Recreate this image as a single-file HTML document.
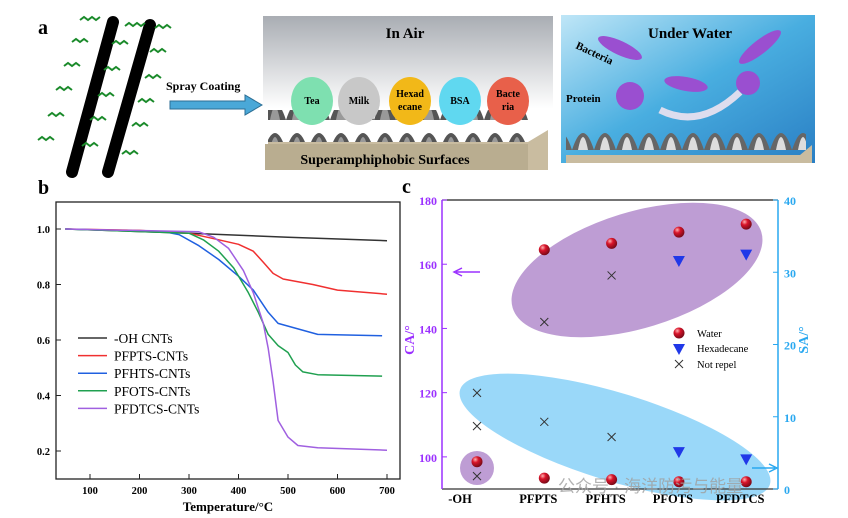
<!DOCTYPE html>
<html><head><meta charset="utf-8"><style>
body{margin:0;background:#fff;overflow:hidden}
svg{display:block;font-family:"Liberation Serif",serif}
</style></head><body>
<svg width="848" height="518" viewBox="0 0 848 518">
<defs>
<linearGradient id="air" x1="0" y1="0" x2="0" y2="1"><stop offset="0" stop-color="#a9adb3"/><stop offset="0.6" stop-color="#fff"/></linearGradient>
<linearGradient id="water" x1="0" y1="0" x2="1" y2="1"><stop offset="0" stop-color="#bfe6f7"/><stop offset="0.5" stop-color="#49aee0"/><stop offset="1" stop-color="#2a7fc4"/></linearGradient>
<radialGradient id="wball" cx="0.35" cy="0.3" r="0.7"><stop offset="0" stop-color="#ffb0b0"/><stop offset="0.4" stop-color="#d9142a"/><stop offset="1" stop-color="#7a0a18"/></radialGradient>
<pattern id="spk" width="22" height="30" patternUnits="userSpaceOnUse"><path d="M0 30 Q11 -4 22 30Z" fill="#555"/><path d="M6 30 Q11 4 16 30Z" fill="#999"/></pattern>
<pattern id="spk2" width="22" height="30" patternUnits="userSpaceOnUse"><path d="M0 30 Q11 -4 22 30Z" fill="#666"/><path d="M6 30 Q11 4 16 30Z" fill="#ddd"/></pattern>
<clipPath id="clipC"><rect x="442" y="200" width="336" height="318"/></clipPath>
</defs>

<!-- Panel a -->
<g>
<text x="38" y="34" font-size="20" font-weight="bold">a</text>
<line x1="72" y1="172" x2="113" y2="22" stroke="#000" stroke-width="12" stroke-linecap="round"/>
<line x1="108" y1="172" x2="150" y2="25" stroke="#000" stroke-width="12" stroke-linecap="round"/>
<g stroke="#1a8a2a" stroke-width="2" fill="none">
<path d="M80 20 l4 -3 l4 3 l4 -3 l4 3 l4 -3"/><path d="M125 26 l4 -3 l4 3 l4 -3 l4 3 l4 -3"/><path d="M155 28 l4 -3 l4 3 l4 -3 l4 3"/>
<path d="M72 42 l4 -3 l4 3 l4 -3 l4 3"/><path d="M112 44 l4 -3 l4 3 l4 -3 l4 3"/><path d="M150 52 l4 -3 l4 3 l4 -3 l4 3"/>
<path d="M64 66 l4 -3 l4 3 l4 -3 l4 3"/><path d="M104 70 l4 -3 l4 3 l4 -3 l4 3"/><path d="M145 78 l4 -3 l4 3 l4 -3 l4 3"/>
<path d="M56 90 l4 -3 l4 3 l4 -3 l4 3"/><path d="M98 96 l4 -3 l4 3 l4 -3 l4 3"/><path d="M138 102 l4 -3 l4 3 l4 -3 l4 3"/>
<path d="M48 116 l4 -3 l4 3 l4 -3 l4 3"/><path d="M90 120 l4 -3 l4 3 l4 -3 l4 3"/><path d="M132 126 l4 -3 l4 3 l4 -3 l4 3"/>
<path d="M38 140 l4 -3 l4 3 l4 -3 l4 3"/><path d="M82 146 l4 -3 l4 3 l4 -3 l4 3"/><path d="M122 154 l4 -3 l4 3 l4 -3 l4 3"/>
</g>
<text x="166" y="90" font-size="12" font-weight="bold">Spray Coating</text>
<path d="M170 101 H245 V95 L262 105 L245 115 V109 H170Z" fill="#4aa8d8" stroke="#2c6e94"/>
<rect x="263" y="16" width="290" height="154" fill="url(#air)"/>
<text x="405" y="38" font-size="15" font-weight="bold" text-anchor="middle">In Air</text>
<rect x="268" y="110" width="260" height="32" fill="url(#spk)"/>
<path d="M268 142 H528 L548 130 V170 H268Z" fill="#c9bca0"/>
<rect x="265" y="144" width="263" height="26" fill="#b9ad90"/>
<text x="385" y="164" font-size="14" font-weight="bold" text-anchor="middle">Superamphiphobic Surfaces</text>
<g font-size="10" font-weight="bold" text-anchor="middle">
<ellipse cx="312" cy="101" rx="21" ry="24" fill="#7ee0b0"/><text x="312" y="104">Tea</text>
<ellipse cx="359" cy="101" rx="21" ry="24" fill="#c8c8c8"/><text x="359" y="104">Milk</text>
<ellipse cx="410" cy="101" rx="21" ry="24" fill="#f2b818"/><text x="410" y="97">Hexad</text><text x="410" y="110">ecane</text>
<ellipse cx="460" cy="101" rx="21" ry="24" fill="#60d8f0"/><text x="460" y="104">BSA</text>
<ellipse cx="508" cy="101" rx="21" ry="24" fill="#e8604a"/><text x="508" y="97">Bacte</text><text x="508" y="110">ria</text>
</g>
<rect x="561" y="15" width="254" height="148" fill="url(#water)"/>
<text x="690" y="38" font-size="15" font-weight="bold" text-anchor="middle">Under Water</text>
<text x="575" y="48" font-size="11" font-weight="bold" transform="rotate(25 575 48)">Bacteria</text>
<text x="566" y="102" font-size="11" font-weight="bold">Protein</text>
<g fill="#9a4fd0">
<ellipse cx="620" cy="48" rx="24" ry="7" transform="rotate(25 620 48)"/>
<ellipse cx="760" cy="47" rx="26" ry="7" transform="rotate(-38 760 47)"/>
<ellipse cx="686" cy="84" rx="22" ry="7" transform="rotate(10 686 84)"/>
<circle cx="630" cy="96" r="14"/><circle cx="748" cy="83" r="12"/></g>
<path d="M660 110 Q700 130 740 92" stroke="#dde" stroke-width="7" fill="none"/>
<rect x="566" y="125" width="240" height="30" fill="url(#spk2)"/>
<path d="M566 155 H800 L812 145 V163 H566Z" fill="#c9bca0"/>
</g>

<!-- Panel b -->
<text x="38" y="194" font-size="20" font-weight="bold">b</text>
<g id="chartB"></g>

<!-- Panel c -->
<text x="402" y="193" font-size="20" font-weight="bold">c</text>
<g id="chartC"></g>
<text x="558" y="492" font-size="17" fill="#a0a0a0" opacity="0.8" font-family="'Liberation Sans','Noto Sans CJK SC',sans-serif">公众号 · 海洋防污与能量</text>
</svg>
<script>
// ---------- Chart b data ----------
const tgaSeriesNames = ["-OH CNTs","PFPTS-CNTs","PFHTS-CNTs","PFOTS-CNTs","PFDTCS-CNTs"];
const tgaColors = ["#333333","#f03030","#2060e0","#20a050","#a060e0"];
const tgaTemps = [
 [50,300,500,700],
 [50,200,300,350,400,430,450,470,490,550,600,700],
 [50,250,280,320,360,400,430,460,480,520,560,690],
 [50,300,330,360,390,420,440,460,480,500,515,530,560,690],
 [50,320,350,380,410,430,450,460,470,480,500,520,560,700]];
const tgaValues = [
 [1.0,0.985,0.97,0.958],
 [1.0,0.995,0.985,0.965,0.945,0.92,0.88,0.84,0.82,0.80,0.78,0.765],
 [1.0,0.99,0.98,0.94,0.89,0.83,0.78,0.70,0.66,0.64,0.62,0.615],
 [1.0,0.985,0.96,0.92,0.86,0.77,0.70,0.62,0.58,0.555,0.51,0.485,0.475,0.47],
 [1.0,0.99,0.97,0.93,0.85,0.77,0.66,0.57,0.45,0.31,0.25,0.22,0.212,0.203]];
const tgaXTicks = [100,200,300,400,500,600,700];
const tgaYTicks = [0.2,0.4,0.6,0.8,1.0];

// ---------- Chart c data ----------
const cats = ["-OH","PFPTS","PFHTS","PFOTS","PFDTCS"];
const waterCA = [98.5,164.5,166.5,170,172.5];
const hexCA = [null,null,null,161,163];
const notRepelCA = [94,142,156.5,null,null];
const waterSA = [null,1.5,1.3,1.0,1.0];
const hexSA = [null,null,null,5.1,4.1];
const notRepelSA1 = [13.3,9.3,7.2,null,null];
const notRepelSA2 = [8.7,null,null,null,null];
const caTicks = [100,120,140,160,180];
const saTicks = [0,10,20,30,40];

const NS="http://www.w3.org/2000/svg";
function mk(parent,tag,attrs,text){const e=document.createElementNS(NS,tag);for(const k in attrs)e.setAttribute(k,attrs[k]);if(text!==undefined)e.textContent=text;parent.appendChild(e);return e;}

// Chart b
(function(){
 const g=document.getElementById('chartB');
 const X=t=>90+(t-100)*0.495, Y=v=>229+(1-v)*277.5;
 tgaValues.forEach((vals,i)=>{
  const d=vals.map((v,j)=>(j?'L':'M')+X(tgaTemps[i][j]).toFixed(1)+' '+Y(v).toFixed(1)).join(' ');
  const p=mk(g,'path',{d:d,fill:'none',stroke:tgaColors[i],'stroke-width':1.5,'stroke-linejoin':'round'});
  
  
 });
 const box=mk(g,'rect',{x:56,y:202,width:344,height:277,fill:'none',stroke:'#222','stroke-width':1.3});
 
 
 tgaXTicks.forEach(t=>{
  mk(g,'line',{x1:X(t),y1:479,x2:X(t),y2:474,stroke:'#222'});
  const tx=mk(g,'text',{x:X(t),y:494,'font-size':10.5,'font-weight':'bold','text-anchor':'middle'},t);
  
  
 });
 tgaYTicks.forEach(v=>{
  mk(g,'line',{x1:56,y1:Y(v),x2:61,y2:Y(v),stroke:'#222'});
  const tx=mk(g,'text',{x:50,y:Y(v)+4,'font-size':10.5,'font-weight':'bold','text-anchor':'end'},v.toFixed(1));
  
  
 });
 const xt=mk(g,'text',{x:228,y:511,'font-size':13,'font-weight':'bold','text-anchor':'middle'},'Temperature/°C');
 
 
 tgaSeriesNames.forEach((n,i)=>{
  const y=338+i*17.6;
  mk(g,'line',{x1:78,y1:y,x2:107,y2:y,stroke:tgaColors[i],'stroke-width':1.5});
  const t=mk(g,'text',{x:114,y:y+5,'font-size':13.5},n);
  
  
 });
})();

// Chart c
(function(){
 const g=document.getElementById('chartC');
 const X=i=>477+i*67.3, YL=v=>200+(180-v)*3.211, YR=v=>489-v*7.225;
 const cg=mk(g,'g',{'clip-path':'url(#clipC)'});
 const pe=mk(cg,'ellipse',{cx:637,cy:270,rx:130,ry:58,fill:'#b38ccc',opacity:0.85,transform:'rotate(-17 637 270)'});
 
 
 const be=mk(cg,'ellipse',{cx:615,cy:437,rx:162,ry:44,fill:'#8fd4f8',opacity:0.9,transform:'rotate(17 615 437)'});
 
 
 mk(g,'circle',{cx:477,cy:468,r:17,fill:'#b38ccc',opacity:0.85});
 // axes
 mk(g,'line',{x1:442,y1:200,x2:778,y2:200,stroke:'#222','stroke-width':1.3});
 mk(g,'line',{x1:442,y1:489,x2:778,y2:489,stroke:'#333','stroke-width':1.3});
 mk(g,'line',{x1:442,y1:200,x2:442,y2:489,stroke:'#9b30ff','stroke-width':1.5});
 mk(g,'line',{x1:778,y1:200,x2:778,y2:489,stroke:'#29a8f0','stroke-width':1.5});
 caTicks.forEach(v=>{
  mk(g,'line',{x1:442,y1:YL(v),x2:447,y2:YL(v),stroke:'#9b30ff'});
  const t=mk(g,'text',{x:437,y:YL(v)+5,'font-size':12,'font-weight':'bold',fill:'#9b30ff','text-anchor':'end'},v);
  
  
 });
 saTicks.forEach(v=>{
  mk(g,'line',{x1:778,y1:YR(v),x2:773,y2:YR(v),stroke:'#29a8f0'});
  const t=mk(g,'text',{x:784,y:YR(v)+5,'font-size':12,'font-weight':'bold',fill:'#29a8f0'},v);
  
  
 });
 cats.forEach((c,i)=>{
  const t=mk(g,'text',{x:i==0?460:X(i)-6,y:503,'font-size':12.5,'font-weight':'bold','text-anchor':'middle'},c);
  
  
 });
 const ca=mk(g,'text',{x:414,y:340,'font-size':14,'font-weight':'bold',fill:'#9b30ff','text-anchor':'middle',transform:'rotate(-90 414 340)'},'CA/°');
 
 
 const sa=mk(g,'text',{x:808,y:340,'font-size':14,'font-weight':'bold',fill:'#29a8f0','text-anchor':'middle',transform:'rotate(-90 808 340)'},'SA/°');
 
 
 mk(g,'path',{d:'M480 272 H456 M462 268 L454 272 L462 276',stroke:'#9b30ff','stroke-width':1.5,fill:'none'});
 mk(g,'path',{d:'M752 468 H775 M769 464 L777 468 L769 472',stroke:'#29a8f0','stroke-width':1.5,fill:'none'});
 function ball(x,y){const c=mk(g,'circle',{cx:x,cy:y,r:5.5,fill:'url(#wball)'});
  
  }
 function tri(x,y){const p=mk(g,'path',{d:`M${x-6} ${y-5} H${x+6} L${x} ${y+6}Z`,fill:'#2038e8'});
  
  }
 function cross(x,y){const p=mk(g,'path',{d:`M${x-4} ${y-4} L${x+4} ${y+4} M${x+4} ${y-4} L${x-4} ${y+4}`,stroke:'#333','stroke-width':1});
  
  }
 cats.forEach((c,i)=>{
  if(waterCA[i]!=null)ball(X(i),YL(waterCA[i]));
  if(hexCA[i]!=null)tri(X(i),YL(hexCA[i]));
  if(notRepelCA[i]!=null)cross(X(i),YL(notRepelCA[i]));
  if(waterSA[i]!=null)ball(X(i),YR(waterSA[i]));
  if(hexSA[i]!=null)tri(X(i),YR(hexSA[i]));
  if(notRepelSA1[i]!=null)cross(X(i),YR(notRepelSA1[i]));
  if(notRepelSA2[i]!=null)cross(X(i),YR(notRepelSA2[i]));
 });
 ball(679,333);tri(679,349);cross(679,364);
 [['Water',337],['Hexadecane',352],['Not repel',368]].forEach(([n,y])=>{
  const t=mk(g,'text',{x:697,y:y,'font-size':10.5},n);
  
  
 });
})();
</script>
</body></html>
